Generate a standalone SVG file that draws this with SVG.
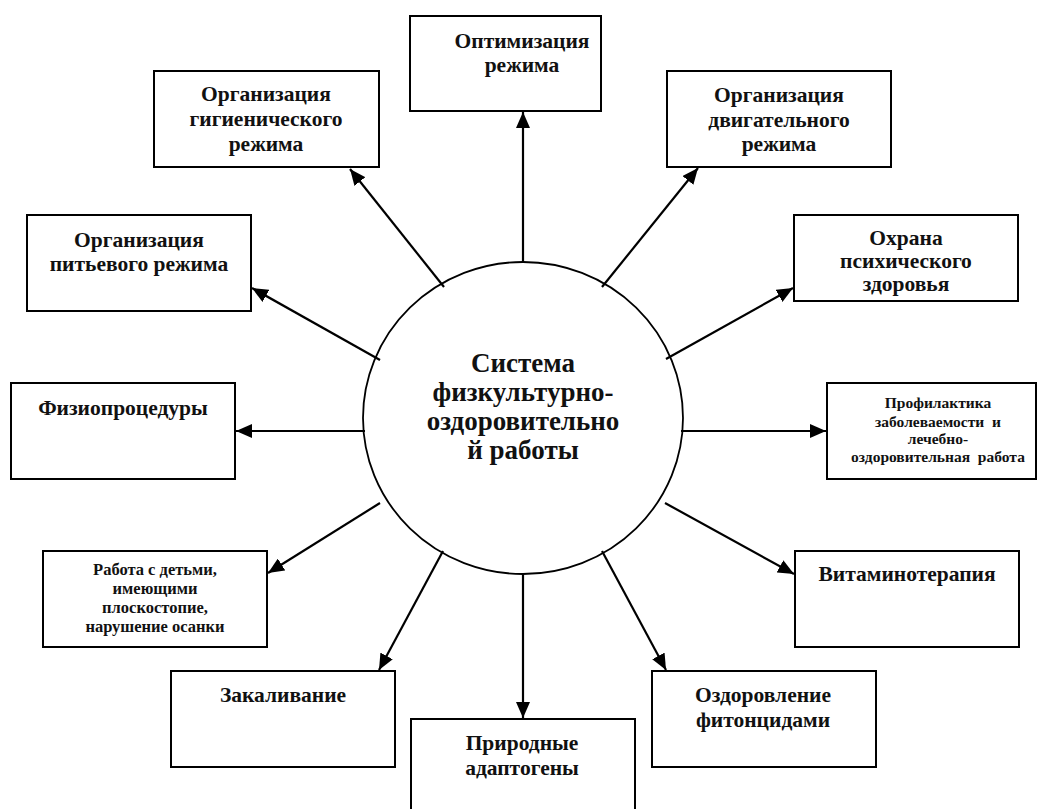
<svg xmlns="http://www.w3.org/2000/svg" width="1038" height="809" viewBox="0 0 1038 809">
<style>
.box{fill:#fff;stroke:#000;stroke-width:2}
text{font-family:'Liberation Serif','Times New Roman','DejaVu Serif',serif;font-weight:700;text-anchor:middle;fill:#111}
.t{font-size:21.5px}
.s{font-size:15.5px}
.r{font-size:16.5px}
.c{font-size:27px}
.ln{stroke:#000;stroke-width:2.2;fill:none;marker-end:url(#ah)}
</style>
<defs>
<marker id="ah" markerUnits="userSpaceOnUse" markerWidth="17" markerHeight="14" refX="16" refY="7" orient="auto">
<path d="M0,0 L16,7 L0,14 z" fill="#000"/>
</marker>
</defs>
<rect width="1038" height="809" fill="#fff"/>
<g id="connectors">
<line class="ln" x1="523" y1="263" x2="523" y2="112"/>
<line class="ln" x1="444" y1="287" x2="350" y2="169"/>
<line class="ln" x1="602" y1="287" x2="698" y2="168"/>
<line class="ln" x1="666" y1="359" x2="793" y2="288"/>
<line class="ln" x1="380" y1="360" x2="252" y2="288"/>
<line class="ln" x1="365" y1="431" x2="236" y2="431"/>
<line class="ln" x1="681" y1="431" x2="826" y2="431"/>
<line class="ln" x1="380" y1="503" x2="268" y2="573"/>
<line class="ln" x1="665" y1="503" x2="794" y2="574"/>
<line class="ln" x1="443" y1="551" x2="379" y2="670"/>
<line class="ln" x1="523" y1="573" x2="523" y2="718"/>
<line class="ln" x1="602" y1="551" x2="666" y2="670"/>
</g>
<g id="center">
<ellipse cx="523" cy="418" rx="160" ry="156" fill="none" stroke="#000" stroke-width="1.8"/>
<text class="c" x="523" y="372">Система</text>
<text class="c" x="523" y="401">физкультурно-</text>
<text class="c" x="523" y="430">оздоровительно</text>
<text class="c" x="523" y="459">й работы</text>
</g>
<g id="n-optim">
<rect class="box" x="410" y="16" width="191" height="95"/>
<text class="t" x="522" y="48">Оптимизация</text>
<text class="t" x="522" y="72">режима</text>
</g>
<g id="n-gig">
<rect class="box" x="154" y="71" width="225" height="96"/>
<text class="t" x="266" y="101">Организация</text>
<text class="t" x="266" y="126">гигиенического</text>
<text class="t" x="266" y="151">режима</text>
</g>
<g id="n-dvig">
<rect class="box" x="667" y="71" width="224" height="96"/>
<text class="t" x="779" y="102">Организация</text>
<text class="t" x="779" y="127">двигательного</text>
<text class="t" x="779" y="151">режима</text>
</g>
<g id="n-psych">
<rect class="box" x="794" y="215" width="224" height="86"/>
<text class="t" x="906" y="245">Охрана</text>
<text class="t" x="906" y="268">психического</text>
<text class="t" x="906" y="291">здоровья</text>
</g>
<g id="n-pit">
<rect class="box" x="27" y="215" width="224" height="96"/>
<text class="t" x="139" y="247">Организация</text>
<text class="t" x="139" y="271">питьевого режима</text>
</g>
<g id="n-fizio">
<rect class="box" x="11" y="383" width="224" height="96"/>
<text class="t" x="123" y="415">Физиопроцедуры</text>
</g>
<g id="n-prof">
<rect class="box" x="827" y="383" width="209" height="96"/>
<text class="s" x="938" y="408">Профилактика</text>
<text class="s" x="938" y="427" xml:space="preserve">заболеваемости  и</text>
<text class="s" x="938" y="444">лечебно-</text>
<text class="s" x="938" y="462" xml:space="preserve">оздоровительная  работа</text>
</g>
<g id="n-rabota">
<rect class="box" x="43" y="551" width="224" height="96"/>
<text class="r" x="155" y="575">Работа с детьми,</text>
<text class="r" x="155" y="594">имеющими</text>
<text class="r" x="155" y="613">плоскостопие,</text>
<text class="r" x="155" y="632">нарушение осанки</text>
</g>
<g id="n-vitamin">
<rect class="box" x="795" y="551" width="224" height="96"/>
<text class="t" x="907" y="581">Витаминотерапия</text>
</g>
<g id="n-zakal">
<rect class="box" x="171" y="671" width="224" height="96"/>
<text class="t" x="283" y="702">Закаливание</text>
</g>
<g id="n-priroda">
<rect class="box" x="411" y="719" width="224" height="100"/>
<text class="t" x="522" y="750">Природные</text>
<text class="t" x="522" y="775">адаптогены</text>
</g>
<g id="n-fiton">
<rect class="box" x="652" y="671" width="224" height="96"/>
<text class="t" x="763" y="702">Оздоровление</text>
<text class="t" x="763" y="727">фитонцидами</text>
</g>
</svg>
